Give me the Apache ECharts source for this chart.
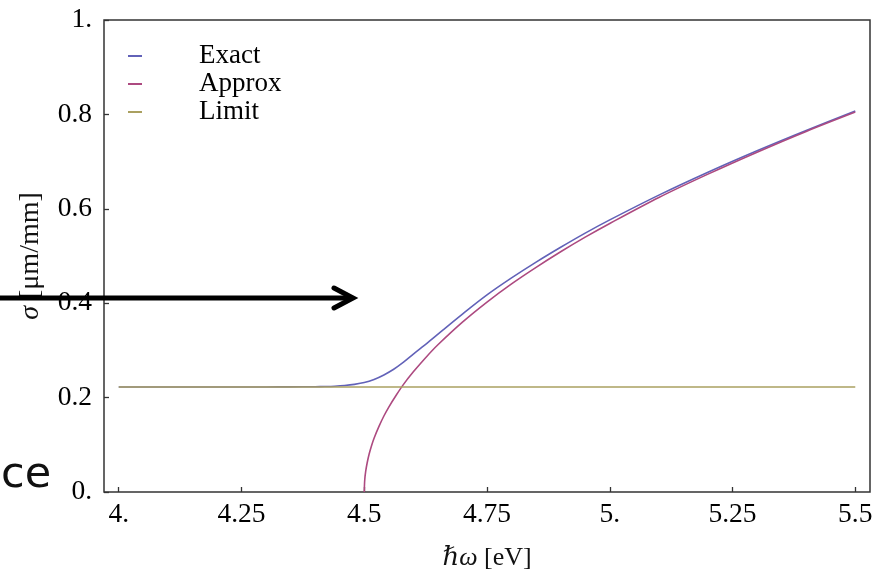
<!DOCTYPE html>
<html>
<head>
<meta charset="utf-8">
<script src="https://cdn.jsdelivr.net/npm/echarts@6/dist/echarts.min.js"></script>
<style>
html,body{margin:0;padding:0;background:#fff;}
#chart{width:888px;height:571px;}
</style>
</head>
<body>
<div id="chart"></div>
<script>
// data
const xTicks = [4, 4.25, 4.5, 4.75, 5, 5.25, 5.5]
const xTickLabels = ['4.', '4.25', '4.5', '4.75', '5.', '5.25', '5.5']
const yTickLabels = ['0.', '0.2', '0.4', '0.6', '0.8', '1.']

const exactX = [4.0, 4.2, 4.3, 4.35, 4.4, 4.42, 4.44, 4.46, 4.48, 4.5, 4.52, 4.54, 4.56, 4.58, 4.6, 4.63, 4.66, 4.7, 4.75, 4.8, 4.85, 4.9, 4.95, 5.0, 5.1, 5.2, 5.3, 5.4, 5.5]
const exactY = [0.2225, 0.2225, 0.2226, 0.2228, 0.2231, 0.2235, 0.2242, 0.2256, 0.2280, 0.2318, 0.2385, 0.2480, 0.2600, 0.2750, 0.2920, 0.3170, 0.3430, 0.3770, 0.4175, 0.4535, 0.4870, 0.5185, 0.5485, 0.5765, 0.6290, 0.6775, 0.7230, 0.7660, 0.8070]

const approxX = [4.5, 4.501, 4.503, 4.506, 4.51, 4.515, 4.52, 4.53, 4.54, 4.55, 4.565, 4.58, 4.6, 4.625, 4.65, 4.7, 4.75, 4.8, 4.85, 4.9, 4.95, 5.0, 5.1, 5.2, 5.3, 5.4, 5.5]
const approxY = [0, 0.0255, 0.044, 0.062, 0.0805, 0.0986, 0.114, 0.139, 0.161, 0.180, 0.205, 0.228, 0.2546, 0.2846, 0.312, 0.360, 0.4025, 0.441, 0.476, 0.509, 0.540, 0.569, 0.624, 0.6735, 0.720, 0.764, 0.805]

const limitX = [4.0, 5.5]
const limitY = [0.2225, 0.2225]

function pairs(xs, ys){
  return xs.map((x, i) => [x, ys[i]])
}

const serif = '"Liberation Serif", "DejaVu Serif", serif'

const option = {
  animation: false,
  backgroundColor: '#fff',
  grid: {
    left: 104,
    top: 20,
    right: 18,
    bottom: 79,
    outerBoundsMode: 'none',
    show: true,
    borderColor: '#333',
    borderWidth: 1.5
  },
  legend: {
    orient: 'vertical',
    left: 123,
    top: 37,
    itemWidth: 14,
    itemHeight: 2,
    itemGap: 0,
    icon: 'rect',
    textStyle: {
      fontFamily: serif,
      fontSize: 27,
      color: '#000',
      lineHeight: 28,
      padding: [0, 0, 0, 52]
    },
    data: ['Exact', 'Approx', 'Limit']
  },
  xAxis: {
    type: 'value',
    min: 3.97,
    max: 5.53,
    name: '{i|ℏω} [eV]',
    nameLocation: 'middle',
    nameGap: 53,
    nameTextStyle: {
      fontFamily: serif,
      fontSize: 26,
      color: '#111',
      rich: {
        i: {fontFamily: serif, fontSize: 26, fontStyle: 'italic', color: '#111'}
      }
    },
    splitLine: {show: false},
    axisLine: {show: false},
    axisTick: {
      inside: true,
      length: 5,
      customValues: xTicks,
      lineStyle: {color: '#333', width: 1.3}
    },
    axisLabel: {
      customValues: xTicks,
      margin: 9,
      fontFamily: serif,
      fontSize: 27.5,
      color: '#000',
      formatter: v => xTickLabels[xTicks.indexOf(+v.toFixed(2))]
    }
  },
  yAxis: {
    type: 'value',
    min: 0,
    max: 1,
    interval: 0.2,
    name: '{i|σ} [μm/mm]',
    nameLocation: 'middle',
    nameGap: 59,
    nameTextStyle: {
      fontFamily: serif,
      fontSize: 28,
      color: '#111',
      rich: {
        i: {fontFamily: serif, fontSize: 28, fontStyle: 'italic', color: '#111'}
      }
    },
    splitLine: {show: false},
    axisLine: {show: false},
    axisTick: {
      inside: true,
      length: 5,
      lineStyle: {color: '#333', width: 1.3}
    },
    axisLabel: {
      margin: 12,
      fontFamily: serif,
      fontSize: 27.5,
      color: '#000',
      formatter: v => yTickLabels[Math.round(v * 5)]
    }
  },
  series: [
    {
      name: 'Exact',
      type: 'line',
      data: pairs(exactX, exactY),
      showSymbol: false,
      smooth: 0.3,
      itemStyle: {color: '#6262b8'},
      lineStyle: {color: '#6262b8', width: 1.6}
    },
    {
      name: 'Approx',
      type: 'line',
      data: pairs(approxX, approxY),
      showSymbol: false,
      smooth: 0.3,
      itemStyle: {color: '#ad4a80'},
      lineStyle: {color: '#ad4a80', width: 1.6}
    },
    {
      name: 'Limit',
      type: 'line',
      data: pairs(limitX, limitY),
      showSymbol: false,
      itemStyle: {color: '#aaa060'},
      lineStyle: {color: '#aaa060', width: 1.6}
    }
  ],
  graphic: [
    {
      type: 'line',
      shape: {x1: 0, y1: 298, x2: 351, y2: 298},
      style: {stroke: '#000', lineWidth: 5},
      z: 100
    },
    {
      type: 'polyline',
      shape: {points: [[334, 288], [353, 298], [334, 308]]},
      style: {stroke: '#000', lineWidth: 5, fill: null, lineCap: 'round', lineJoin: 'miter'},
      z: 100
    },
    {
      type: 'text',
      left: 1,
      top: 454,
      style: {
        text: 'ce',
        font: '43px "DejaVu Sans", sans-serif',
        fill: '#111'
      },
      z: 100
    }
  ]
}

const chart = echarts.init(document.getElementById('chart'))
chart.setOption(option)
</script>
</body>
</html>
